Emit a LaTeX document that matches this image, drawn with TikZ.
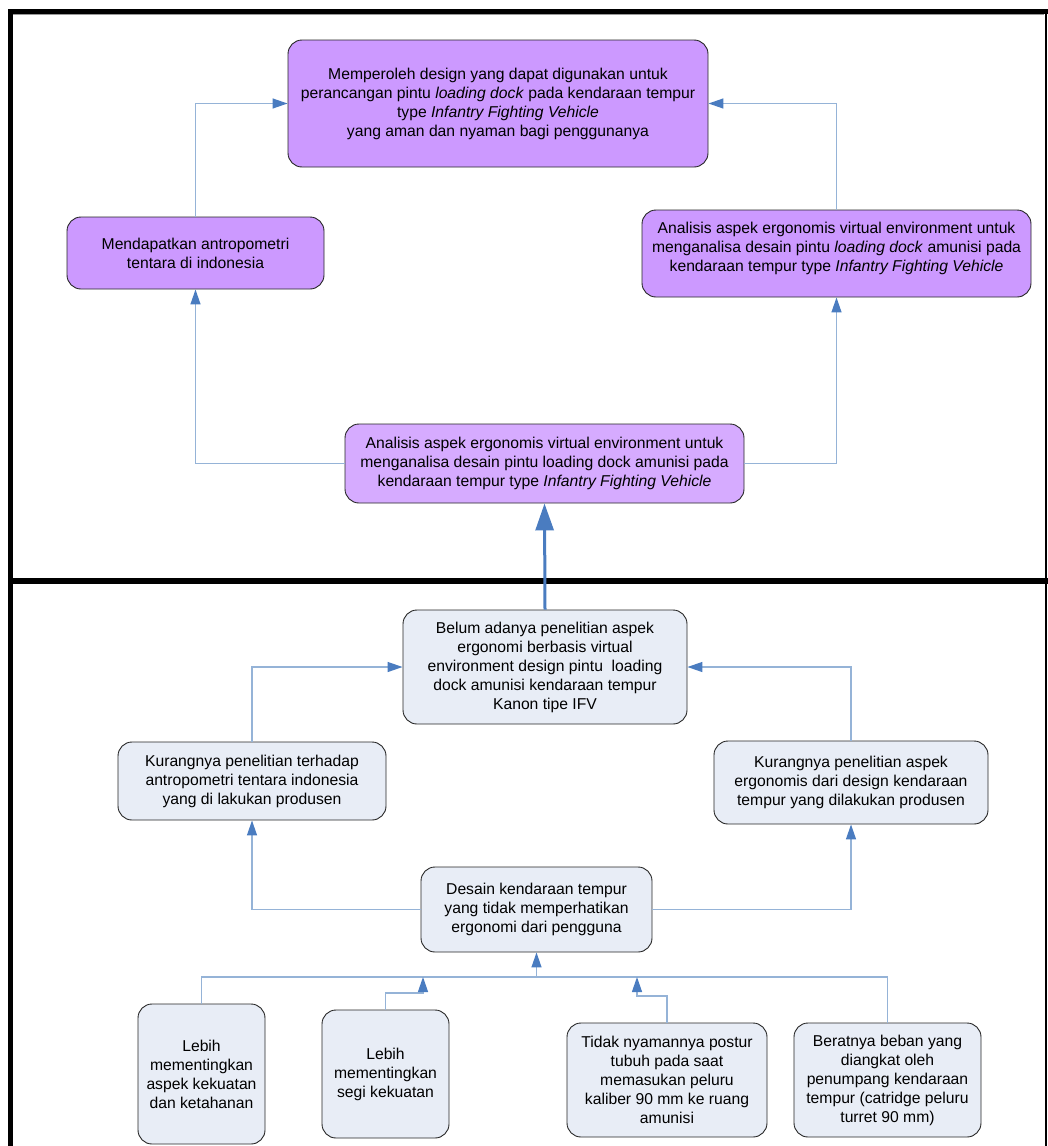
\documentclass[tikz,border=0pt]{standalone}
\usepackage{fontspec}
\setmainfont{Liberation Sans}
\usetikzlibrary{arrows.meta}
\definecolor{ungu}{HTML}{CC99FF}
\definecolor{ungumuda}{HTML}{D6ABFF}
\definecolor{abu}{HTML}{E8EDF6}
\definecolor{garis}{HTML}{95B3D7}
\definecolor{panah}{HTML}{4A7CC0}
\begin{document}
\begin{tikzpicture}[x=1pt, y=-1pt,
  kotak/.style={draw=black!85, line width=0.9pt, rounded corners=14pt, align=center,
    inner sep=0pt, font=\fontsize{15.7}{19}\selectfont},
  garisan/.style={draw=garis, line width=1.3pt},
  hubung/.style={garisan, -{Triangle[length=15pt, width=10pt, color=panah]}},
  tebal/.style={draw=panah, line width=3pt, -{Triangle[length=27pt, width=18pt, color=panah]}}]
  \useasboundingbox (0,0) rectangle (1048,1146);
  % bingkai
  \draw[line width=5pt] (10,1146) -- (10,11) -- (1048,11);
  \draw[black!40, line width=1pt] (13,14.5) -- (1044,14.5);
  \draw[line width=2pt] (1046,11) -- (1046,1146);
  \draw[line width=6pt] (8,581) -- (1048,581);

  % bagian atas
  \node[kotak, fill=ungu, minimum width=420pt, minimum height=127pt] (tujuan) at (498,103.5)
    {Memperoleh design yang dapat digunakan untuk\\
     perancangan pintu \textit{loading dock} pada kendaraan tempur\\
     type \textit{Infantry Fighting Vehicle}\\
     yang aman dan nyaman bagi penggunanya};
  \node[kotak, fill=ungu, minimum width=257pt, minimum height=72pt] (antro) at (195.5,253)
    {Mendapatkan antropometri\\ tentara di indonesia};
  \node[kotak, fill=ungu, minimum width=389pt, minimum height=87pt] (virtual) at (836.5,253.5)
    {Analisis aspek ergonomis virtual environment untuk\\
     menganalisa desain pintu \textit{loading dock} amunisi pada\\
     kendaraan tempur type \textit{Infantry Fighting Vehicle}\\[-5pt]\mbox{}};
  \node[kotak, fill=ungumuda, minimum width=399pt, minimum height=79pt] (analisis) at (544.5,463.5)
    {Analisis aspek ergonomis virtual environment untuk\\
     menganalisa desain pintu loading dock amunisi pada\\
     kendaraan tempur type \textit{Infantry Fighting Vehicle}};

  % bagian bawah
  \node[kotak, fill=abu, minimum width=284pt, minimum height=114pt] (belum) at (545,667)
    {Belum adanya penelitian aspek\\ ergonomi berbasis virtual\\
     environment design pintu~ loading\\ dock amunisi kendaraan tempur\\ Kanon tipe IFV};
  \node[kotak, fill=abu, minimum width=268pt, minimum height=78pt] (kurangA) at (252,781)
    {Kurangnya penelitian terhadap\\ antropometri tentara indonesia\\ yang di lakukan produsen};
  \node[kotak, fill=abu, minimum width=274pt, minimum height=83pt] (kurangB) at (851,782.5)
    {Kurangnya penelitian aspek\\ ergonomis dari design kendaraan\\ tempur yang dilakukan produsen};
  \node[kotak, fill=abu, minimum width=231pt, minimum height=85pt] (desain) at (536.5,909.5)
    {Desain kendaraan tempur\\ yang tidak memperhatikan\\ ergonomi dari pengguna};
  \node[kotak, fill=abu, minimum width=127pt, minimum height=140pt] (lebihA) at (201.5,1074)
    {Lebih\\ mementingkan\\ aspek kekuatan\\ dan ketahanan};
  \node[kotak, fill=abu, minimum width=127pt, minimum height=128pt] (lebihB) at (385.5,1074)
    {Lebih\\ mementingkan\\ segi kekuatan};
  \node[kotak, fill=abu, minimum width=200pt, minimum height=114pt] (tidak) at (667,1080)
    {Tidak nyamannya postur\\ tubuh pada saat\\ memasukan peluru\\ kaliber 90 mm ke ruang\\ amunisi};
  \node[kotak, fill=abu, minimum width=187pt, minimum height=114pt] (berat) at (887.5,1080)
    {Beratnya beban yang\\ diangkat oleh\\ penumpang kendaraan\\ tempur (catridge peluru\\ turret 90 mm)};

  % titik bantu
  \coordinate (bus) at (536.5,977);
  \coordinate (tekukB) at (423,993);
  \coordinate (ujungB) at (423,977);
  \coordinate (tekukC) at (637,996);
  \coordinate (ujungC) at (637,977);

  % penghubung
  \draw[hubung] (antro.north) |- (tujuan.west);
  \draw[hubung] (virtual.north) |- (tujuan.east);
  \draw[hubung] (analisis.west) -| (antro.south);
  \draw[hubung] (analisis.east) -| (virtual.south);
  \draw[tebal] (belum.north) -- (analisis.south);
  \draw[hubung] (kurangA.north) |- (belum.west);
  \draw[hubung] (kurangB.north) |- (belum.east);
  \draw[hubung] (desain.west) -| (kurangA.south);
  \draw[hubung] (desain.east) -| (kurangB.south);
  \draw[garisan] (lebihA.north) |- (bus) -| (berat.north);
  \draw[hubung] (bus) -- (desain.south);
  \draw[hubung] (lebihB.north) |- (tekukB) -- (ujungB);
  \draw[hubung] (tidak.north) |- (tekukC) -- (ujungC);
\end{tikzpicture}
\end{document}
